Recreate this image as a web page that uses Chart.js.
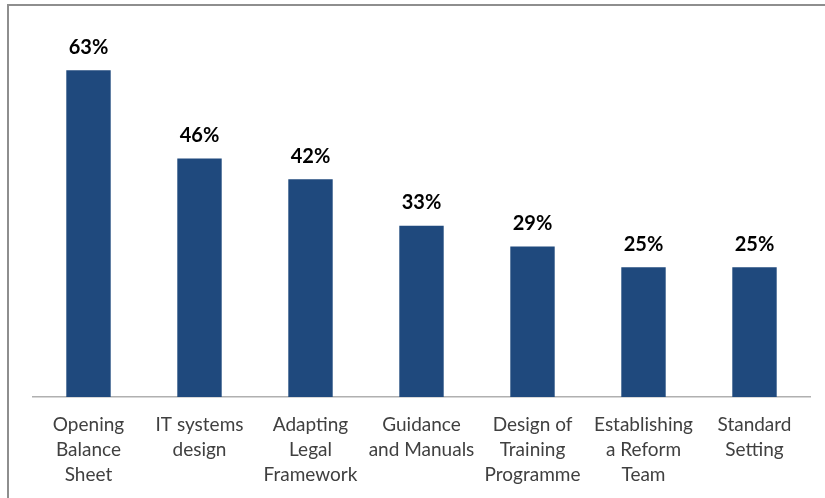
<!DOCTYPE html>
<html>
<head>
<meta charset="utf-8">
<script src="https://cdn.jsdelivr.net/npm/chart.js@4"></script>
<style>
  html, body { margin: 0; padding: 0; background: #fff; overflow: hidden; }
  #wrap { position: relative; width: 825px; height: 498px; overflow: hidden; }
  #frame { position: absolute; left: 7px; top: 4px; width: 840px; height: 520px; border: 2px solid #8e8e8e; box-sizing: border-box; }
  canvas { position: absolute; left: 0; top: 0; }
</style>
</head>
<body>
<div id="wrap">
  <div id="frame"></div>
  <canvas id="chart" width="825" height="498"></canvas>
</div>
<script>
  const categories = [
    ['Opening', 'Balance', 'Sheet'],
    ['IT systems', 'design'],
    ['Adapting', 'Legal', 'Framework'],
    ['Guidance', 'and Manuals'],
    ['Design of', 'Training', 'Programme'],
    ['Establishing', 'a Reform', 'Team'],
    ['Standard', 'Setting']
  ];
  const values = [63, 46, 42, 33, 29, 25, 25];

  const FONT = 'Lato, "Open Sans", sans-serif';

  const valueLabels = {
    id: 'valueLabels',
    afterDatasetsDraw(chart) {
      const ctx = chart.ctx;
      const meta = chart.getDatasetMeta(0);
      ctx.save();
      ctx.font = 'bold 20px ' + FONT;
      ctx.fillStyle = '#000';
      ctx.textAlign = 'center';
      ctx.textBaseline = 'middle';
      meta.data.forEach((bar, i) => {
        ctx.fillText(values[i] + '%', bar.x, bar.y - 23);
      });
      ctx.restore();
    }
  };

  new Chart(document.getElementById('chart'), {
    type: 'bar',
    data: {
      labels: categories,
      datasets: [{
        data: values,
        backgroundColor: '#1F497D',
        borderWidth: 0,
        barPercentage: 0.4,
        categoryPercentage: 1
      }]
    },
    options: {
      responsive: false,
      animation: false,
      devicePixelRatio: 1,
      layout: { padding: { left: 33, right: 15, top: 34, bottom: -5 } },
      plugins: { legend: { display: false }, tooltip: { enabled: false } },
      scales: {
        x: {
          grid: { display: false, drawTicks: false },
          border: { color: '#b0b0b0', width: 1.5 },
          ticks: {
            color: '#404040',
            font: { family: FONT, size: 19, lineHeight: 1.3 },
            padding: 16,
            maxRotation: 0,
            autoSkip: false
          }
        },
        y: {
          display: false,
          min: 0,
          max: 70
        }
      }
    },
    plugins: [valueLabels]
  });
</script>
</body>
</html>
